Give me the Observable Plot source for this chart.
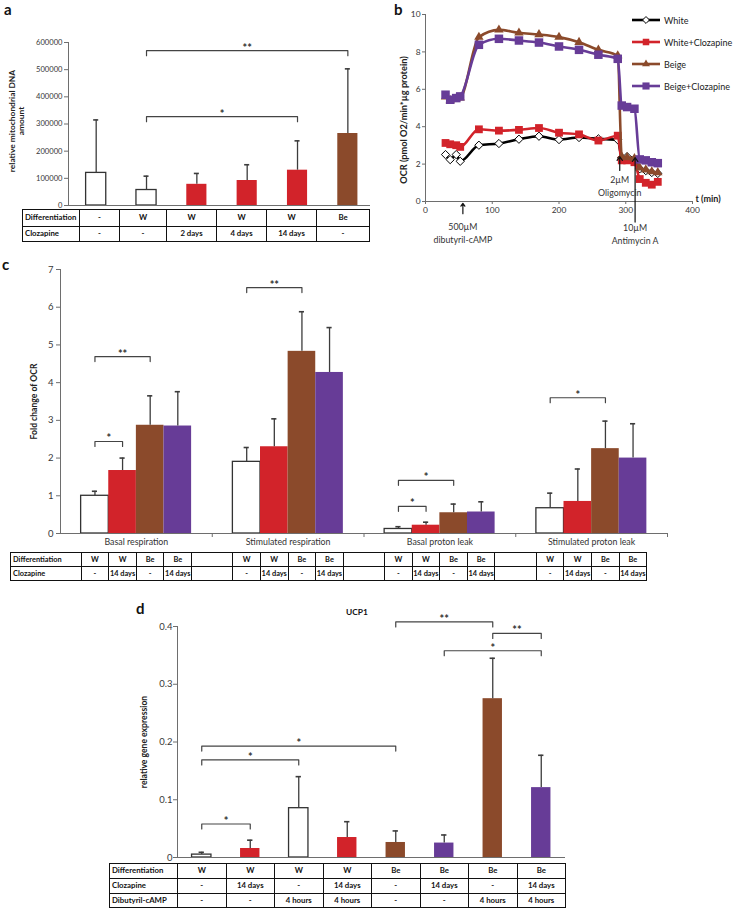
<!DOCTYPE html>
<html><head><meta charset="utf-8">
<script src="https://cdn.jsdelivr.net/npm/d3@7"></script>
<script src="https://cdn.jsdelivr.net/npm/@observablehq/plot@0.6"></script>
<style>
body{margin:0;background:#fff;font-family:Lato,"Open Sans",sans-serif;}
#fig{position:relative;width:734px;height:908px;overflow:hidden;background:#fff;}
.box{position:absolute;}
.box svg{display:block;max-width:none;overflow:visible;}
.plabel{position:absolute;font-weight:bold;font-size:15px;color:#111;line-height:1;}
table.t{position:absolute;border-collapse:collapse;font-weight:bold;color:#111;table-layout:fixed;}
table.t td{border:1.4px solid #111;padding:0;text-align:center;white-space:nowrap;overflow:visible;line-height:1;}
table.t td.lab{text-align:left;padding-left:2px;}
.leg{position:absolute;display:flex;align-items:center;font-size:9px;color:#222;}
</style></head><body><div id="fig"></div>
<script>
// ---------------- Panel a : mitochondrial DNA ----------------
const aDifferentiation = ["-", "W", "W", "W", "W", "Be"];
const aClozapine = ["-", "-", "2 days", "4 days", "14 days", "-"];
const aMean = [120000, 57000, 78000, 92000, 130000, 265000];
const aSD = [195000, 51000, 40000, 58000, 108000, 238000];
const aTicks = [0, 100000, 200000, 300000, 400000, 500000, 600000];
const aSig = [
  {from: 1, to: 5, level: 570000, label: "**"},
  {from: 1, to: 4, level: 327000, label: "*"}
];

// ---------------- Panel b : OCR time course ----------------
const bTime      = [30, 37, 46, 52, 80, 110, 140, 170, 200, 230, 259, 288, 294, 302, 313, 321, 330, 339, 348];
const bWhite     = [2.51, 2.24, 2.51, 2.15, 3.01, 3.10, 3.33, 3.49, 3.31, 3.42, 3.35, 3.30, 2.35, 2.40, 2.25, 1.75, 1.65, 1.55, 1.50];
const bWhiteClz  = [3.13, 3.06, 3.01, 2.92, 3.86, 3.79, 3.83, 3.93, 3.68, 3.59, 3.26, 3.52, 2.20, 2.20, 2.10, 1.20, 1.00, 0.90, 1.05];
const bBeige     = [5.60, 5.40, 5.50, 5.55, 8.79, 9.18, 9.02, 8.93, 8.79, 8.52, 8.11, 7.80, 2.40, 2.35, 2.30, 1.80, 1.70, 1.60, 1.55];
const bBeigeClz  = [5.71, 5.44, 5.53, 5.62, 8.38, 8.70, 8.61, 8.50, 8.29, 8.11, 7.85, 7.63, 5.13, 5.05, 4.96, 2.25, 2.20, 2.10, 2.05];
const bSeriesNames = ["White", "White+Clozapine", "Beige", "Beige+Clozapine"];
const bXTicks = [0, 100, 200, 300, 400];
const bYTicks = [0, 2, 4, 6, 8, 10];
const bEventTime  = [56, 291, 314];
const bEventText  = ["500µM\ndibutyril-cAMP", "2µM\nOligomycin", "10µM\nAntimycin A"];
const bArrowHead  = [-0.1, 2.4, 2.35];
const bArrowTail  = [-0.65, 1.66, -1.1];
const bTextTop    = [-1.05, 1.45, -1.12];

// ---------------- Panel c : fold change of OCR ----------------
const cGroups = ["Basal respiration", "Stimulated respiration", "Basal proton leak", "Stimulated proton leak"];
const cDifferentiation = ["W", "W", "Be", "Be"];
const cClozapine = ["-", "14 days", "-", "14 days"];
const cWhite      = [1.00, 1.90, 0.12, 0.67];
const cWhiteClz   = [1.67, 2.30, 0.22, 0.85];
const cBeige      = [2.87, 4.83, 0.55, 2.25];
const cBeigeClz   = [2.85, 4.27, 0.57, 2.00];
const cWhiteSD    = [0.12, 0.38, 0.06, 0.40];
const cWhiteClzSD = [0.33, 0.74, 0.08, 0.86];
const cBeigeSD    = [0.78, 1.05, 0.23, 0.73];
const cBeigeClzSD = [0.91, 1.19, 0.27, 0.91];
const cTicks = [0, 1, 2, 3, 4, 5, 6, 7];
const cSig = [
  {group: 0, from: 0, to: 1, level: 2.44, label: "*"},
  {group: 0, from: 0, to: 2, level: 4.69, label: "**"},
  {group: 1, from: 0, to: 2, level: 6.52, label: "**"},
  {group: 2, from: 0, to: 1, level: 0.72, label: "*"},
  {group: 2, from: 0, to: 2, level: 1.41, label: "*"},
  {group: 3, from: 0, to: 2, level: 3.60, label: "*"}
];

// ---------------- Panel d : UCP1 ----------------
const dDifferentiation = ["W", "W", "W", "W", "Be", "Be", "Be", "Be"];
const dClozapine = ["-", "14 days", "-", "14 days", "-", "14 days", "-", "14 days"];
const dCamp = ["-", "-", "4 hours", "4 hours", "-", "-", "4 hours", "4 hours"];
const dMean = [0.005, 0.0156, 0.0854, 0.0346, 0.026, 0.025, 0.275, 0.121];
const dSD   = [0.004, 0.0144, 0.0546, 0.0274, 0.020, 0.014, 0.070, 0.056];
const dTicks = [0, 0.1, 0.2, 0.3, 0.4];
const dSig = [
  {from: 0, to: 1, level: 0.058, label: "*"},
  {from: 0, to: 2, level: 0.169, label: "*"},
  {from: 0, to: 4, level: 0.193, label: "*"},
  {from: 4, to: 6, level: 0.408, label: "**"},
  {from: 6, to: 7, level: 0.388, label: "**"},
  {from: 5, to: 7, level: 0.358, label: "*"}
];

// ---------------- styles ----------------
const FONT = "Lato, 'Open Sans', sans-serif";
const COL = {white: "#ffffff", red: "#d2232a", brown: "#8b4a2b", purple: "#673c97", axis: "#6e6e6e", err: "#3c3c3c", ink: "#2a2a2a"};
function fillOf(diff, clz) {
  if (diff === "Be") return clz === "-" ? COL.brown : COL.purple;
  return clz === "-" ? COL.white : COL.red;
}
const fig = document.getElementById("fig");
function place(el, left, top, w, h) {
  const div = document.createElement("div");
  div.className = "box";
  div.style.left = left + "px"; div.style.top = top + "px";
  if (w) div.style.width = w + "px";
  if (h) div.style.height = h + "px";
  div.appendChild(el);
  fig.appendChild(div);
  return div;
}
function label(txt, left, top, size) {
  const d = document.createElement("div");
  d.className = "plabel"; d.textContent = txt;
  d.style.left = left + "px"; d.style.top = top + "px";
  if (size) d.style.fontSize = size + "px";
  fig.appendChild(d);
}
function addTable(left, top, widths, heights, rows, fontSize) {
  const t = document.createElement("table");
  t.className = "t";
  t.style.left = left + "px"; t.style.top = top + "px";
  t.style.width = d3.sum(widths) + "px";
  t.style.fontSize = fontSize + "px";
  const cg = document.createElement("colgroup");
  widths.forEach(w => { const c = document.createElement("col"); c.style.width = w + "px"; cg.appendChild(c); });
  t.appendChild(cg);
  rows.forEach((r, ri) => {
    const tr = document.createElement("tr");
    tr.style.height = heights[ri] + "px";
    r.forEach((v, ci) => {
      const td = document.createElement("td");
      if (ci === 0) td.className = "lab";
      td.textContent = v;
      tr.appendChild(td);
    });
    t.appendChild(tr);
  });
  fig.appendChild(t);
}
function barMarks(data, half, cap) {
  return [
    Plot.rect(data, {x1: d => d.x - half, x2: d => d.x + half, y1: 0, y2: "mean",
      fill: "fill", stroke: d => d.fill === COL.white ? "#333333" : "none", strokeWidth: 1.3}),
    Plot.ruleX(data, {x: "x", y1: "mean", y2: d => d.mean + d.sd, stroke: COL.err, strokeWidth: 1.3}),
    Plot.ruleY(data, {y: d => d.mean + d.sd, x1: d => d.x - cap, x2: d => d.x + cap, stroke: COL.err, strokeWidth: 1.6})
  ];
}
function bracketMarks(sigs, xOf, drop, starSize) {
  const pts = sigs.flatMap((s, id) => [
    {id, x: xOf(s, s.from), y: s.level - drop},
    {id, x: xOf(s, s.from), y: s.level},
    {id, x: xOf(s, s.to), y: s.level},
    {id, x: xOf(s, s.to), y: s.level - drop}
  ]);
  return [
    Plot.line(pts, {x: "x", y: "y", z: "id", stroke: "#444", strokeWidth: 1.2}),
    Plot.text(sigs, {x: s => (xOf(s, s.from) + xOf(s, s.to)) / 2, y: "level", text: "label",
      dy: 1, lineAnchor: "bottom", fontSize: starSize, fill: "#333", fontWeight: "bold"})
  ];
}
function yTitle(text, dx, dy, size) {
  return Plot.text([text], {frameAnchor: "left", text: d => d, rotate: -90, textAnchor: "middle",
    dx, dy, fontWeight: "bold", fontSize: size, lineHeight: 1.1, fill: "#222"});
}

// ======== Panel a ========
{
  const data = aMean.map((m, i) => ({x: i, mean: m, sd: aSD[i], fill: fillOf(aDifferentiation[i], aClozapine[i])}));
  const H = 215, mt = 42, mb = 10;
  const drop = 5 * 600000 / (H - mt - mb);
  const p = Plot.plot({
    width: 372, height: H, marginLeft: 68, marginRight: 2, marginTop: mt, marginBottom: mb,
    x: {domain: [-0.55, 5.45], axis: null},
    y: {domain: [0, 600000]},
    color: {type: "identity"},
    style: {fontFamily: FONT, fontSize: "7.6px", color: "#383838", background: "transparent", overflow: "visible"},
    marks: [
      ...barMarks(data, 0.2, 0.05),
      Plot.ruleX([-0.55], {stroke: COL.axis, strokeWidth: 1}),
      Plot.ruleY([0], {stroke: COL.axis, strokeWidth: 1}),
      Plot.axisY({ticks: aTicks, tickFormat: d3.format("d"), tickSize: 4, tickPadding: 2, label: null, stroke: COL.axis, fontSize: 7.6}),
      ...bracketMarks(aSig, (s, i) => i, drop, 11),
      yTitle("relative mitochondrial DNA\namount", -52, -3, 8.4)
    ]
  });
  place(p, 0, 0, 372, H);
  label("a", 4, 2);
  addTable(22, 209, [57, 40, 47, 50, 50, 50, 53], [17, 15], [
    ["Differentiation", ...aDifferentiation],
    ["Clozapine", ...aClozapine]
  ], 7.8);
}

// ======== Panel b ========
{
  const bValues = [bWhite, bWhiteClz, bBeige, bBeigeClz];
  const diamond = {draw(ctx, size) { const r = Math.sqrt(size / 2); ctx.moveTo(0, -r); ctx.lineTo(r, 0); ctx.lineTo(0, r); ctx.lineTo(-r, 0); ctx.closePath(); }};
  const look = {
    "White": {line: "#000000", symbol: diamond, r: 3.3, fill: "#ffffff", stroke: "#000000"},
    "White+Clozapine": {line: COL.red, symbol: "square", r: 4.4, fill: COL.red, stroke: "none"},
    "Beige": {line: COL.brown, symbol: "triangle", r: 3.5, fill: COL.brown, stroke: "none"},
    "Beige+Clozapine": {line: COL.purple, symbol: "square", r: 4.8, fill: COL.purple, stroke: "none"}
  };
  const seriesMarks = bSeriesNames.flatMap((name, si) => {
    const pts = bTime.map((t, i) => ({t, v: bValues[si][i]}));
    const L = look[name];
    return [
      Plot.line(pts, {x: "t", y: "v", stroke: L.line, strokeWidth: 2.6, curve: "monotone-x"}),
      Plot.dot(pts, {x: "t", y: "v", symbol: L.symbol, r: L.r, fill: L.fill, stroke: L.stroke, strokeWidth: 1})
    ];
  });
  const events = bEventTime.map((t, i) => ({t, text: bEventText[i], head: bArrowHead[i], tail: bArrowTail[i], top: bTextTop[i]}));
  const p = Plot.plot({
    width: 362, height: 250, marginLeft: 53, marginRight: 42, marginTop: 14, marginBottom: 49,
    x: {domain: [0, 400]},
    y: {domain: [0, 10]},
    style: {fontFamily: FONT, fontSize: "8.4px", color: "#333", background: "transparent", overflow: "visible"},
    marks: [
      Plot.ruleX([0], {stroke: COL.axis}),
      Plot.ruleY([0], {stroke: COL.axis}),
      Plot.axisX({ticks: bXTicks, tickSize: 3, tickPadding: 3, label: null, stroke: COL.axis, fontSize: 8.4}),
      Plot.axisY({ticks: bYTicks, tickSize: 3, tickPadding: 2, label: null, stroke: COL.axis, fontSize: 8.4}),
      ...seriesMarks,
      Plot.arrow(events, {x1: "t", y1: "tail", x2: "t", y2: "head", stroke: "#111", strokeWidth: 1.2, headLength: 6, headAngle: 70}),
      Plot.text(events, {x: "t", y: "top", text: "text", lineAnchor: "top", lineHeight: 1.45, fontSize: 8.8, fill: "#333"}),
      Plot.text(["t (min)"], {frameAnchor: "bottom-right", text: d => d, textAnchor: "start", dx: 3, fontWeight: "bold", fontSize: 9, fill: "#222"}),
      yTitle("OCR (pmol O2/min*µg protein)", -22, 12, 9.2)
    ]
  });
  place(p, 372, 0, 362, 250);
  label("b", 394, 2);
  // legend
  bSeriesNames.forEach((name, i) => {
    const L = look[name];
    const row = document.createElement("div");
    row.className = "leg";
    row.style.left = "632px"; row.style.top = (14 + i * 22) + "px";
    const sym = typeof L.symbol === "string" ? ({square: d3.symbolSquare, triangle: d3.symbolTriangle})[L.symbol] : L.symbol;
    const path = d3.symbol(sym, Math.PI * L.r * L.r * 0.7)();
    row.innerHTML = `<svg width="28" height="12"><line x1="0" y1="6" x2="28" y2="6" stroke="${L.line}" stroke-width="2.6"/>` +
      `<path d="${path}" transform="translate(14,6)" fill="${L.fill}" stroke="${L.stroke}" stroke-width="1"/></svg>` +
      `<span style="margin-left:4px">${name}</span>`;
    fig.appendChild(row);
  });
}

// ======== Panel c ========
{
  const cMeans = [cWhite, cWhiteClz, cBeige, cBeigeClz];
  const cSDs = [cWhiteSD, cWhiteClzSD, cBeigeSD, cBeigeClzSD];
  const BW = 0.182;
  const xOf = (g, k) => g + (k - 1.5) * BW;
  const data = cGroups.flatMap((g, gi) => cDifferentiation.map((diff, k) => ({
    x: xOf(gi, k), mean: cMeans[k][gi], sd: cSDs[k][gi], fill: fillOf(diff, cClozapine[k])})));
  const W = 672, H = 300, ml = 60, mr = 5, mt = 14, mb = 22;
  const drop = 5 * 7 / (H - mt - mb);
  const p = Plot.plot({
    width: W, height: H, marginLeft: ml, marginRight: mr, marginTop: mt, marginBottom: mb,
    x: {domain: [-0.5, 3.5]},
    y: {domain: [0, 7]},
    color: {type: "identity"},
    style: {fontFamily: FONT, fontSize: "9.5px", color: "#383838", background: "transparent", overflow: "visible"},
    marks: [
      ...barMarks(data, BW / 2, 0.017),
      Plot.ruleX([-0.5], {stroke: COL.axis}),
      Plot.ruleY([0], {stroke: COL.axis}),
      Plot.axisY({ticks: cTicks, tickFormat: d3.format("d"), tickSize: 4, tickPadding: 3, label: null, stroke: COL.axis, fontSize: 9.5}),
      Plot.axisX({ticks: [0.5, 1.5, 2.5, 3.5], tickFormat: () => "", tickSize: 4, label: null, stroke: COL.axis}),
      Plot.axisX({ticks: [0, 1, 2, 3], tickFormat: i => cGroups[i], tickSize: 0, tickPadding: 5, label: null, fontSize: 8.8, fill: "#333"}),
      ...bracketMarks(cSig, (s, k) => xOf(s.group, k), drop, 11),
      yTitle("Fold change of OCR", -27, 0, 8.6)
    ]
  });
  place(p, 0, 255, W, H);
  label("c", 2, 257);
  const ppu = (W - ml - mr) / 4, barPx = BW * ppu;
  const firstLeft = ml + 0.5 * ppu - 2 * barPx;
  const gap = ppu - 4 * barPx;
  const widths = [firstLeft - 10];
  const row1 = ["Differentiation"], row2 = ["Clozapine"];
  cGroups.forEach((g, gi) => {
    cDifferentiation.forEach((d, k) => { widths.push(barPx); row1.push(d); row2.push(cClozapine[k]); });
    if (gi < cGroups.length - 1) { widths.push(gap); row1.push(""); row2.push(""); }
  });
  addTable(10, 552, widths, [14, 14], [row1, row2], 7.4);
}

// ======== Panel d ========
{
  const data = dMean.map((m, i) => ({x: i, mean: m, sd: dSD[i], fill: fillOf(dDifferentiation[i], dClozapine[i])}));
  const W = 470, H = 262, ml = 77, mr = 5, mt = 26, mb = 5;
  const drop = 5 * 0.4 / (H - mt - mb);
  const p = Plot.plot({
    width: W, height: H, marginLeft: ml, marginRight: mr, marginTop: mt, marginBottom: mb,
    x: {domain: [-0.5, 7.5], axis: null},
    y: {domain: [0, 0.4]},
    color: {type: "identity"},
    style: {fontFamily: FONT, fontSize: "9.5px", color: "#383838", background: "transparent", overflow: "visible"},
    marks: [
      ...barMarks(data, 0.2, 0.055),
      Plot.ruleX([-0.5], {stroke: COL.axis}),
      Plot.ruleY([0], {stroke: COL.axis}),
      Plot.axisY({ticks: dTicks, tickFormat: d => String(d), tickSize: 4, tickPadding: 1, label: null, stroke: COL.axis, fontSize: 9.5}),
      ...bracketMarks(dSig, (s, i) => i, drop, 11),
      yTitle("relative gene expression", -34, 0, 8.6)
    ]
  });
  place(p, 100, 600, W, H);
  label("d", 136, 601);
  const ucp = document.createElement("div");
  ucp.className = "plabel"; ucp.textContent = "UCP1";
  ucp.style.left = "346px"; ucp.style.top = "608px"; ucp.style.fontSize = "8.4px";
  fig.appendChild(ucp);
  addTable(109, 863, [68, 48.5, 48.5, 48.5, 48.5, 48.5, 48.5, 48.5, 48.5], [15, 15, 14], [
    ["Differentiation", ...dDifferentiation],
    ["Clozapine", ...dClozapine],
    ["Dibutyril-cAMP", ...dCamp]
  ], 7.8);
}
</script></body></html>
